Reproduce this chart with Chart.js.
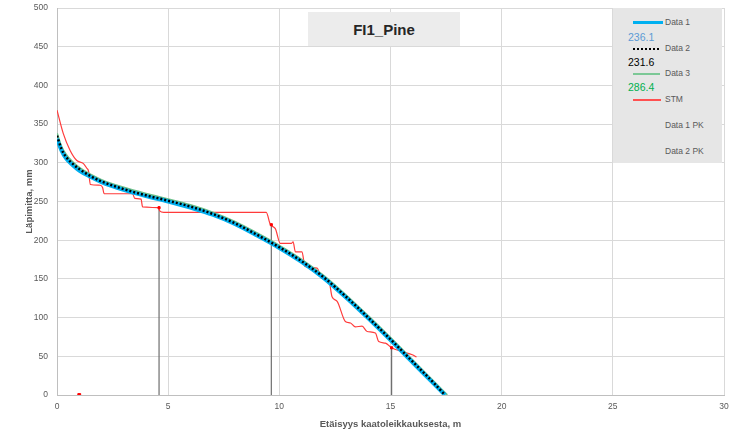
<!DOCTYPE html>
<html>
<head>
<meta charset="utf-8">
<script src="https://cdn.jsdelivr.net/npm/chart.js@4"></script>
<style>
  body { margin:0; background:#fff; font-family:'Liberation Sans', Arial, sans-serif; }
  #wrap { position:relative; width:737px; height:433px; }
  #titleBox { position:absolute; left:308px; top:12px; width:152px; height:34px; background:#ececec;
    font-weight:bold; font-size:15px; color:#262626; text-align:center; line-height:36px; }
  #legendBox { position:absolute; left:613px; top:8px; width:109px; height:155px; background:#e6e6e6; }
  .lg { position:absolute; left:52px; font-size:8.5px; color:#595959; }
  .sw { position:absolute; left:20px; width:30px; }
  .num { position:absolute; left:15px; font-size:10.5px; }
</style>
</head>
<body>
<div id="wrap">
  <canvas id="chart" width="737" height="433"></canvas>
  <div id="titleBox">FI1_Pine</div>
  <div id="legendBox">
    <div class="sw" style="top:13px;height:3px;background:#00b0f0"></div><div class="lg" style="top:9px">Data 1</div>
    <div class="num" style="top:23px;color:#5b9bd5">236.1</div>
    <div class="sw" style="top:40px;width:26px;border-top:2px dotted #000"></div><div class="lg" style="top:35px">Data 2</div>
    <div class="num" style="top:48px;color:#000">231.6</div>
    <div class="sw" style="top:65px;width:27px;height:2px;background:#7cc896"></div><div class="lg" style="top:60px">Data 3</div>
    <div class="num" style="top:73px;color:#00b050">286.4</div>
    <div class="sw" style="top:91px;width:28px;height:2px;background:#ff5050"></div><div class="lg" style="top:86px">STM</div>
    <div class="lg" style="top:112px">Data 1 PK</div>
    <div class="lg" style="top:138px">Data 2 PK</div>
  </div>
</div>
<script>
// stem curve
const curveX = [0, 0.2, 0.4, 0.7, 1, 1.5, 2, 3, 4, 5, 6, 7, 8, 9, 10, 11, 12, 13, 14, 15, 16, 17, 17.45];
const data1Y = [331, 316, 306, 297, 290, 282, 275, 265, 257, 250, 242, 233, 221, 206, 190, 172, 151, 126, 99, 71, 42, 13, 0];
const data2Y = [335, 318, 308, 299, 292, 283, 276, 266, 258, 251, 243.5, 234, 222, 207, 191, 173, 152, 127, 100, 72, 43, 14, 0];
const data3X = [0, 0.2, 0.4, 0.7, 1, 1.5, 2, 3, 4, 5, 6, 7, 8, 9, 10, 11, 12, 13, 14, 15, 16, 17, 17.55];
const data3Y = [338, 321, 311, 301, 294, 285, 278, 268, 260, 253, 245.5, 236, 224, 209, 193, 175, 154, 129, 102, 74, 45, 16, 0];

const stmX = [0, 0.28, 0.59, 0.89, 1.19, 1.34, 1.42, 1.5, 1.95, 2.05, 2.12, 3.4, 3.5, 3.78, 3.85, 4.56, 4.62, 4.8, 9.41, 9.6, 9.82, 10.04, 10.55, 10.62, 10.72, 11.02, 11.15, 11.7, 11.9, 12.22, 12.37, 12.6, 12.97, 13.2, 13.42, 13.72, 13.95, 14.32, 14.47, 14.77, 15.05, 15.53, 15.98, 16.17];
const stmY = [368, 338, 316, 303, 299, 293, 289, 272, 271, 268, 260, 260, 254, 253, 243, 242, 238, 236, 236, 220, 215, 196, 196, 198, 185, 185, 166, 164, 151, 149, 127, 121, 95, 93, 88, 89, 82, 80, 69, 67, 61, 56, 52, 49];

// cutting points
const pkX = [4.59, 9.64, 15.05];
const pkY = [242, 220, 61];
const pk2X = [1];
const pk2Y = [0];

const pts = (xs, ys) => xs.map((x, i) => ({x, y: ys[i]}));
const stems = [];
pkX.forEach((x, i) => { stems.push({x, y: 0}, {x, y: pkY[i]}, {x, y: null}); });

Chart.defaults.font.family = "'Liberation Sans', Arial, sans-serif";
Chart.defaults.color = '#595959';

new Chart(document.getElementById('chart'), {
  type: 'scatter',
  data: {
    datasets: [
      {label: 'Data 2', data: pts(curveX, data2Y), showLine: true, borderColor: '#000', borderWidth: 2.5, borderDash: [2, 2], pointRadius: 0, cubicInterpolationMode: 'monotone'},
      {label: 'Data 1', data: pts(curveX, data1Y), showLine: true, borderColor: '#00b0f0', borderWidth: 4, pointRadius: 0, cubicInterpolationMode: 'monotone'},
      {label: 'Data 3', data: pts(data3X, data3Y), showLine: true, borderColor: '#6cc08b', borderWidth: 2, pointRadius: 0, cubicInterpolationMode: 'monotone'},
      {label: 'Data 1 PK', data: pts(pkX, pkY), showLine: false, backgroundColor: '#ff0000', borderColor: '#ff0000', pointRadius: 1.5, pointStyle: 'rect'},
      {label: 'Data 2 PK', data: pts(pk2X, pk2Y), showLine: false, backgroundColor: '#ff0000', borderColor: '#ff0000', pointRadius: 2, pointStyle: 'rect'},
      {label: 'STM', data: pts(stmX, stmY), showLine: true, borderColor: '#ff3b3b', borderWidth: 1.2, pointRadius: 0, cubicInterpolationMode: 'monotone'},
      {label: 'stems', data: stems, showLine: true, spanGaps: false, borderColor: '#6f6f6f', borderWidth: 1.2, pointRadius: 0}
    ]
  },
  options: {
    responsive: false,
    animation: false,
    devicePixelRatio: 1,
    layout: {padding: {top: 8, right: 13, left: 0, bottom: 0}},
    plugins: {legend: {display: false}, tooltip: {enabled: false}},
    scales: {
      x: {
        type: 'linear', min: 0, max: 30,
        ticks: {stepSize: 5, padding: 7, font: {size: 8.5}, maxRotation: 0},
        grid: {color: '#d9d9d9', drawTicks: false},
        border: {color: '#bfbfbf'},
        title: {display: true, text: 'Etäisyys kaatoleikkauksesta, m', font: {size: 9.5, weight: 'bold'}, padding: {bottom: 3}},
        afterFit: s => { s.height = 38; }
      },
      y: {
        min: 0, max: 500,
        ticks: {stepSize: 50, padding: 9, font: {size: 8.5}},
        grid: {color: '#d9d9d9', drawTicks: false},
        border: {color: '#bfbfbf'},
        title: {display: true, text: 'Läpimitta, mm', font: {size: 9.5, weight: 'bold'}, padding: {top: 24}},
        afterFit: s => { s.width = 57; s.paddingTop = 0; s.paddingBottom = 0; }
      }
    }
  }
});
</script>
</body>
</html>
